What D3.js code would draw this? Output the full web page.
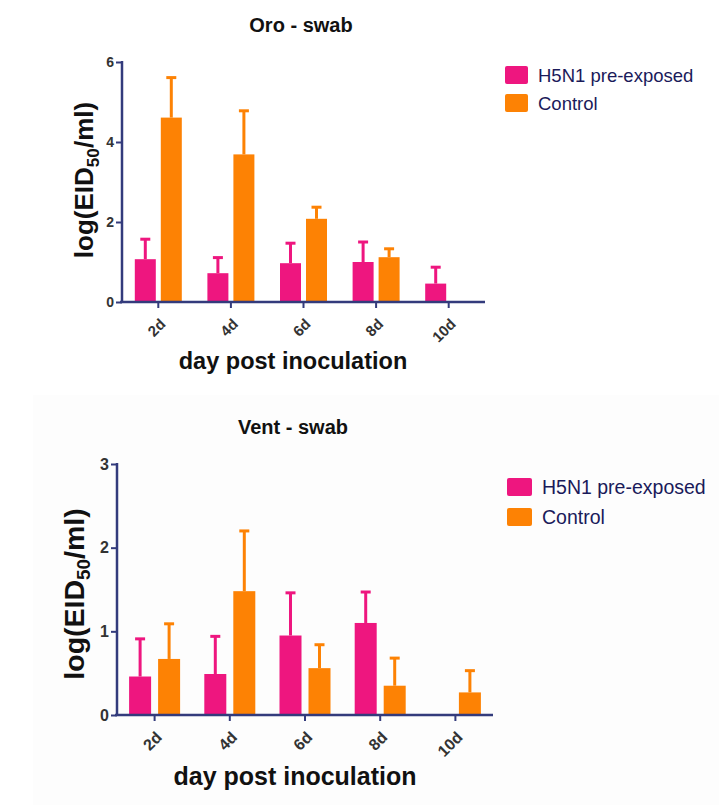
<!DOCTYPE html>
<html><head><meta charset="utf-8">
<script src="https://cdn.jsdelivr.net/npm/d3@7/dist/d3.min.js"></script>
<style>body{margin:0;background:#fff;}svg{display:block;}</style>
</head><body>
<svg id="c" width="719" height="805"></svg>
<script>
const categories = ["2d","4d","6d","8d","10d"];
const seriesNames = ["H5N1 pre-exposed","Control"];
const oroPreMean = [1.07,0.72,0.97,1.0,0.46];
const oroPreErr  = [1.57,1.11,1.47,1.5,0.87];
const oroCtlMean = [4.61,3.69,2.08,1.12,0];
const oroCtlErr  = [5.61,4.78,2.37,1.33,null];
const ventPreMean = [0.46,0.49,0.95,1.1,0];
const ventPreErr  = [0.91,0.94,1.46,1.47,null];
const ventCtlMean = [0.67,1.48,0.56,0.35,0.27];
const ventCtlErr  = [1.09,2.2,0.84,0.68,0.53];
const oroTicks = [0,2,4,6];
const ventTicks = [0,1,2,3];

const colors = ["#ee167f","#fd8204"];
const axisColor = "#333b7c";
const svg = d3.select("#c");

svg.append("rect").attr("x",33).attr("y",395).attr("width",686).attr("height",410).attr("fill","#fdfdfd");

function panel(o){
  const g = svg.append("g");
  const x = d3.scaleBand().domain(categories).range([o.x0,o.x1]).padding(0);
  const y = d3.scaleLinear().domain([0,o.ymax]).range([o.y0,o.y1]);
  const bw = o.bw, gap = o.gap;
  const series = [[o.preM,o.preE],[o.ctlM,o.ctlE]];
  series.forEach((s,si)=>{
    const off = si===0 ? -(bw+gap/2) : gap/2;
    const cx = c => x(c)+x.bandwidth()/2+off;
    const withErr = categories.map((c,i)=>({c,m:s[0][i],e:s[1][i]})).filter(d=>d.e!=null);
    g.selectAll(null).data(withErr).enter().append("line")
      .attr("x1",d=>cx(d.c)+bw/2).attr("x2",d=>cx(d.c)+bw/2)
      .attr("y1",d=>y(d.m)).attr("y2",d=>y(d.e))
      .attr("stroke",colors[si]).attr("stroke-width",3);
    g.selectAll(null).data(withErr).enter().append("line")
      .attr("x1",d=>cx(d.c)+bw/2-5).attr("x2",d=>cx(d.c)+bw/2+5)
      .attr("y1",d=>y(d.e)).attr("y2",d=>y(d.e))
      .attr("stroke",colors[si]).attr("stroke-width",3);
    g.selectAll(null).data(categories.map((c,i)=>({c,m:s[0][i]})).filter(d=>d.m>0))
      .enter().append("rect")
      .attr("x",d=>cx(d.c)).attr("width",bw)
      .attr("y",d=>y(d.m)).attr("height",d=>o.y0-y(d.m))
      .attr("fill",colors[si]);
  });
  const ya = g.append("g").attr("transform",`translate(${o.x0},0)`)
    .call(d3.axisLeft(y).tickValues(o.ticks).tickSize(6).tickPadding(2).tickFormat(d3.format("d")));
  ya.select(".domain").attr("stroke",axisColor).attr("stroke-width",2.5).attr("d",`M0,${o.y0}V${o.y1-1}`);
  ya.selectAll(".tick line").attr("stroke",axisColor).attr("stroke-width",2);
  ya.selectAll(".tick text").attr("fill","#333").attr("font-family","Liberation Sans, Arial, sans-serif")
    .attr("font-weight","bold").attr("font-size",o.ytsize);
  const xa = g.append("g").attr("transform",`translate(0,${o.y0})`)
    .call(d3.axisBottom(x).tickSize(6).tickSizeOuter(0));
  xa.select(".domain").attr("stroke",axisColor).attr("stroke-width",2.5).attr("d",`M${o.x0-2},0H${o.x1}`);
  xa.selectAll(".tick line").attr("stroke",axisColor).attr("stroke-width",2);
  xa.selectAll(".tick text").attr("fill","#333").attr("font-family","Liberation Sans, Arial, sans-serif")
    .attr("font-weight","bold").attr("font-size",o.xtsize)
    .attr("text-anchor","end").attr("dy","0.35em")
    .attr("transform","translate(-2,13) rotate(-45)");
  g.append("text").attr("x",o.tx).attr("y",o.ty).attr("text-anchor","middle")
    .attr("font-family","Liberation Sans Narrow, Arial Narrow, Liberation Sans, sans-serif")
    .attr("font-weight","bold").attr("font-size",20).attr("fill","#111").text(o.title);
  const yl = g.append("text").attr("transform",`translate(${o.ylx},${o.ylc}) rotate(-90)`)
    .attr("text-anchor","middle").attr("font-family","Liberation Sans, Arial, sans-serif")
    .attr("font-weight","bold").attr("font-size",o.ylsize).attr("fill","#111");
  yl.append("tspan").text("log(EID");
  yl.append("tspan").attr("font-size",o.ylsize*0.66).attr("dy",6).text("50");
  yl.append("tspan").attr("dy",-6).text("/ml)");
  g.append("text").attr("x",o.xlx).attr("y",o.xly).attr("text-anchor","middle")
    .attr("font-family","Liberation Sans, Arial, sans-serif").attr("font-weight","bold")
    .attr("font-size",o.xlsize).attr("fill","#111").text("day post inoculation");
  seriesNames.forEach((n,i)=>{
    g.append("rect").attr("x",o.lx).attr("y",o.ly+i*o.lstep).attr("width",o.lw).attr("height",o.lh)
      .attr("rx",2).attr("fill",colors[i]);
    g.append("text").attr("x",o.lx+o.lw+10).attr("y",o.ly+i*o.lstep+o.lh/2).attr("dy","0.36em")
      .attr("font-family","Liberation Sans, Arial, sans-serif").attr("font-size",o.lsize)
      .attr("fill","#1a1a5a").text(n);
  });
}

panel({x0:122,x1:485,y0:302,y1:62,ymax:6,ticks:oroTicks,bw:21,gap:5,
  preM:oroPreMean,preE:oroPreErr,ctlM:oroCtlMean,ctlE:oroCtlErr,
  title:"Oro - swab",tx:301,ty:32,ylx:93,ylc:180,ylsize:26,xlx:293,xly:369,xlsize:23.5,
  ytsize:14,xtsize:15,
  lx:505,ly:66,lstep:28,lw:23,lh:18,lsize:18.5});
panel({x0:117,x1:493,y0:715,y1:464,ymax:3,ticks:ventTicks,bw:22,gap:7,
  preM:ventPreMean,preE:ventPreErr,ctlM:ventCtlMean,ctlE:ventCtlErr,
  title:"Vent - swab",tx:293,ty:434,ylx:84,ylc:594,ylsize:28.5,xlx:295,xly:785,xlsize:25,
  ytsize:16,xtsize:16,
  lx:507,ly:478,lstep:30,lw:25,lh:18,lsize:19.5});
</script>
</body></html>
